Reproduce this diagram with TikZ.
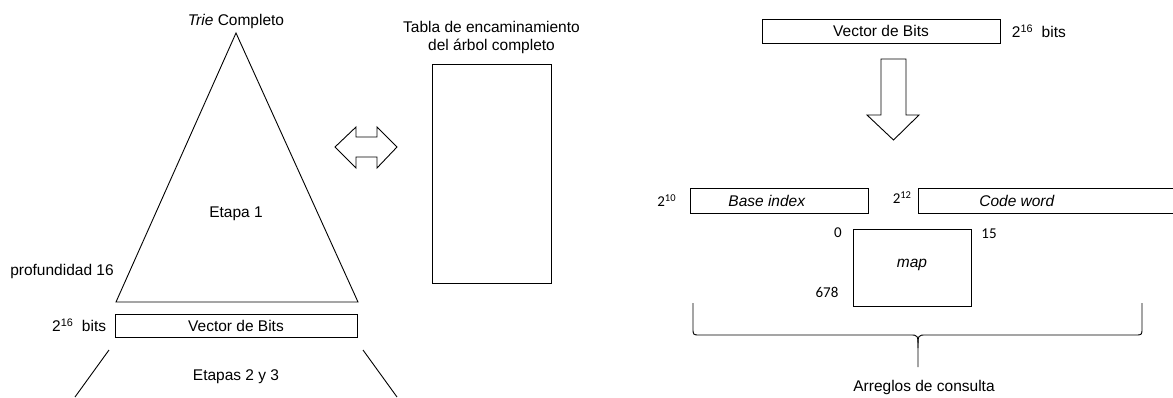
\documentclass[tikz,border=0pt]{standalone}
\usepackage{fontspec}
\setmainfont{Liberation Sans}
\newfontfamily\numfont{Carlito}
\usetikzlibrary{positioning}

\begin{document}
\begin{tikzpicture}[x=1pt, y=-1pt,
	box/.style={rectangle, draw, inner sep=0pt, line width=0.9pt},
	txt/.style={inner sep=0pt, font=\fontsize{15.5}{18}\selectfont},
	num/.style={inner sep=0pt, font=\fontsize{15}{18}\selectfont\numfont},
	line width=0.9pt
]
\useasboundingbox (0,0) rectangle (1173,397);
\clip (0,0) rectangle (1173,397);

% trie completo
\coordinate (apex) at (236,33);
\coordinate (baseL) at (116,302);
\coordinate (baseR) at (358,302);
\draw (apex) -- (baseL) -- (baseR) -- cycle;
\node[txt, above=4pt of apex] (trie) {\textit{Trie} Completo};
\node[txt] (etapa1) at (236,214) {Etapa 1};
\node[txt] (prof) at (62,271) {profundidad 16};

\node[box, minimum width=242pt, minimum height=23pt] (vecL) at (236,325.5) {};
\node[txt] at (vecL.center) {Vector de Bits};
\node[txt, left=8pt of vecL] (bitsL) {2\textsuperscript{16}~~bits};

\coordinate (lowL1) at (109,350);
\coordinate (lowL2) at (75,397);
\coordinate (lowR1) at (363,350);
\coordinate (lowR2) at (397,397);
\foreach \i/\j in {lowL1/lowL2, lowR1/lowR2}
	\draw (\i) -- (\j);
\node[txt] (etapas) at (236,377) {Etapas 2 y 3};

% flecha doble
\draw (335,147) -- (356,127) -- (356,137) -- (377,137) -- (377,127) -- (397,147)
	-- (377,168) -- (377,157) -- (356,157) -- (356,168) -- cycle;

% tabla
\node[box, minimum width=119pt, minimum height=219pt] (tabla) at (491.5,173.5) {};
\node[txt, align=center, above=9pt of tabla] (tablalbl) {Tabla de encaminamiento\\del árbol completo};

% lado derecho
\node[box, minimum width=238pt, minimum height=24pt] (vecR) at (881,31) {};
\node[txt] at (vecR.center) {Vector de Bits};
\node[txt, right=11pt of vecR] (bitsR) {2\textsuperscript{16}~~bits};

\draw (881,59) -- (906,59) -- (906,115) -- (919,115) -- (893.5,140) -- (867,115) -- (881,115) -- cycle;

\node[box, minimum width=178pt, minimum height=25pt] (base) at (779,200.5) {};
\node[txt] (baselbl) at (767,201) {\textit{Base index}};
\node[num, left=13pt of base] (pow10) {2\textsuperscript{10}};

\node[box, minimum width=270pt, minimum height=25pt, anchor=west] (code) at (918,200.5) {};
\node[txt] (codelbl) at (1017,201) {\textit{Code word}};
\node[num, left=6pt of code.west, yshift=3pt] (pow12) {2\textsuperscript{12}};

\node[box, minimum width=118pt, minimum height=77pt] (map) at (912,267.5) {};
\node[txt] (maplbl) at (912,265) {\textit{map}};
\node[num] (zero) at (838,233) {0};
\node[num] (fifteen) at (989,234) {15};
\node[num] (last) at (827,292) {678};

% llave
\coordinate (brL) at (693,303);
\coordinate (brR) at (1142,303);
\coordinate (brM) at (918,348);
\coordinate (brT) at (918,367);
\draw (brL) -- ++(0,25) .. controls ++(0,7) .. ++(7,7) -- (910,335) .. controls (918,335) .. (brM) -- (brT);
\draw (brR) -- ++(0,25) .. controls ++(0,7) .. ++(-7,7) -- (926,335) .. controls (918,335) .. (brM);
\node[txt] (arreglos) at (924,387) {Arreglos de consulta};

\end{tikzpicture}
\end{document}
